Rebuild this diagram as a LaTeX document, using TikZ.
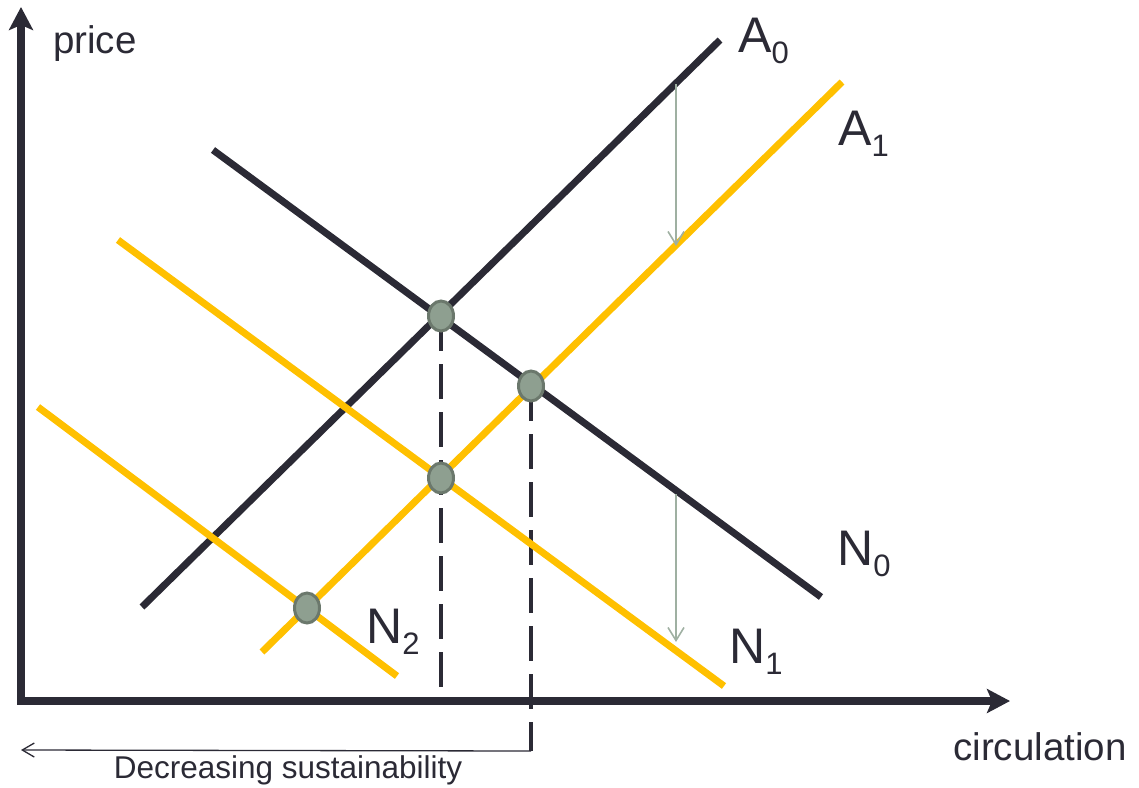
\documentclass[tikz,border=0pt]{standalone}
\usepackage{fontspec}
\setmainfont{Liberation Sans}
\usetikzlibrary{arrows.meta,shapes.geometric}
\definecolor{ink}{HTML}{2B2A35}
\definecolor{gold}{HTML}{FFC000}
\definecolor{shift}{HTML}{9FB0A2}
\definecolor{dotfill}{HTML}{8E9F90}
\definecolor{dotedge}{HTML}{6B786C}
\tikzset{
  axis/.style={draw=ink, line width=8pt, line join=miter, {Stealth[length=23pt,width=24pt,inset=5pt]}-{Stealth[length=23pt,width=24pt,inset=5pt]}},
  blackcurve/.style={draw=ink, line width=7pt},
  goldcurve/.style={draw=gold, line width=7pt},
  guide/.style={draw=ink, line width=4.5pt, dash pattern=on 35pt off 13pt},
  shiftarrow/.style={draw=shift, line width=1.6pt, -{Straight Barb[length=13pt,width=16pt]}},
  noteline/.style={draw=ink, line width=1.3pt, -{Straight Barb[length=12pt,width=14pt]}},
  eq/.style={ellipse, draw=dotedge, fill=dotfill, line width=3pt, minimum width=25pt, minimum height=30pt, inner sep=0pt},
  lbl/.style={anchor=base west, inner sep=0pt, text=ink, font=\fontsize{50}{50}\selectfont},
  axlbl/.style={anchor=base west, inner sep=0pt, text=ink, font=\fontsize{38.5}{40}\selectfont},
}
\newcommand{\sbx}[1]{\raisebox{-11pt}{\fontsize{31}{31}\selectfont #1}}
\begin{document}
\begin{tikzpicture}[x=1pt,y=-1pt]
\useasboundingbox (0,0) rectangle (1139,787);
% coordinates
\coordinate (ytip) at (21,7);
\coordinate (orig) at (21,701);
\coordinate (xtip) at (1010,701);
\coordinate (a0s) at (142,607); \coordinate (a0e) at (720,40);
\coordinate (a1s) at (262,652); \coordinate (a1e) at (842,82);
\coordinate (n0s) at (213,150); \coordinate (n0e) at (821,597);
\coordinate (n1s) at (118,240); \coordinate (n1e) at (724,686);
\coordinate (n2s) at (38,407);  \coordinate (n2e) at (397,676);
\coordinate (g1) at (441,701);
\coordinate (g2) at (531,751);
\coordinate (noteend) at (21,750);
\coordinate (s1a) at (676,84);  \coordinate (s1b) at (676,246);
\coordinate (s2a) at (676,494); \coordinate (s2b) at (676,642);
% guides
\node[eq, draw=none, fill=none] (e1) at (441,316) {};
\node[eq, draw=none, fill=none] (e2) at (531,386) {};
\node[eq, draw=none, fill=none] (e3) at (441,478) {};
\node[eq, draw=none, fill=none] (e4) at (307,608) {};
\draw[guide] (e1.center) -- (g1);
\draw[guide] (e2.center) -- (g2);
% curves
\draw[blackcurve] (a0s) -- (a0e);
\draw[blackcurve] (n0s) -- (n0e);
\draw[goldcurve] (a1s) -- (a1e);
\draw[goldcurve] (n1s) -- (n1e);
\draw[goldcurve] (n2s) -- (n2e);
% axes
\draw[axis] (ytip) -- (orig) -- (xtip);
% shift arrows
\draw[shiftarrow] (s1a) -- (s1b);
\draw[shiftarrow] (s2a) -- (s2b);
% equilibrium dots
\node[eq] at (e1) {};
\node[eq] at (e2) {};
\node[eq] at (e3) {};
\node[eq] at (e4) {};
% note arrow
\draw[noteline] (g2) -- (noteend);
\node[anchor=base, inner sep=0pt, text=ink, font=\fontsize{31.5}{32}\selectfont] (note) at (288,778) {Decreasing sustainability};
% labels
\node[axlbl] (price) at (53,53) {price};
\node[axlbl] (circ) at (953,760) {circulation};
\node[lbl] (la0) at (738,52) {A\sbx{0}};
\node[lbl] (la1) at (838,145) {A\sbx{1}};
\node[lbl] (ln0) at (837,565) {N\sbx{0}};
\node[lbl] (ln1) at (729,663) {N\sbx{1}};
\node[lbl] (ln2) at (366,643) {N\sbx{2}};
\end{tikzpicture}
\end{document}
